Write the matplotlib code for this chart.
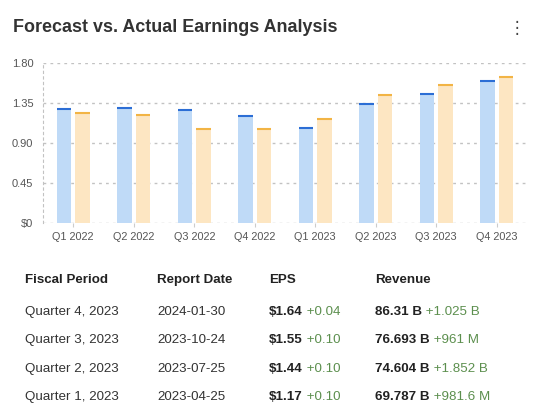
import matplotlib
matplotlib.use("Agg")
import matplotlib.pyplot as plt
import numpy as np

quarters = ["Q1 2022", "Q2 2022", "Q3 2022", "Q4 2022",
            "Q1 2023", "Q2 2023", "Q3 2023", "Q4 2023"]
forecast = [1.28, 1.29, 1.27, 1.20, 1.07, 1.34, 1.45, 1.60]
actual = [1.24, 1.21, 1.06, 1.06, 1.17, 1.44, 1.55, 1.64]
y_ticks = [0, 0.45, 0.90, 1.35, 1.80]
y_tick_labels = ["$0", "0.45", "0.90", "1.35", "1.80"]

headers = ["Fiscal Period", "Report Date", "EPS", "Revenue"]
periods = ["Quarter 4, 2023", "Quarter 3, 2023", "Quarter 2, 2023", "Quarter 1, 2023"]
report_dates = ["2024-01-30", "2023-10-24", "2023-07-25", "2023-04-25"]
eps = ["$1.64", "$1.55", "$1.44", "$1.17"]
eps_surprise = ["+0.04", "+0.10", "+0.10", "+0.10"]
revenue = ["86.31 B", "76.693 B", "74.604 B", "69.787 B"]
revenue_surprise = ["+1.025 B", "+961 M", "+1.852 B", "+981.6 M"]

plt.rcParams["font.family"] = ["Liberation Sans", "DejaVu Sans"]

W, H = 537, 409
fig = plt.figure(figsize=(W / 100, H / 100), dpi=100)
fig.patch.set_facecolor("white")

# overlay in pixel coordinates (y down) for title and table
ov = fig.add_axes([0, 0, 1, 1])
ov.set_xlim(0, W)
ov.set_ylim(H, 0)
ov.axis("off")

ov.text(13, 28, "Forecast vs. Actual Earnings Analysis",
        fontsize=12.9, fontweight="bold", color="#333333", va="center", ha="left")
ov.text(517, 28, "\u22ee", fontsize=12, color="#444444",
        va="center", ha="center", family="DejaVu Sans")

ax = fig.add_axes([43 / W, 1 - 223 / H, 484 / W, (223 - 62.7) / H])
x = np.arange(len(quarters))
bw = 0.24
off = 0.155
blue_fill, blue_top = "#bfdaf7", "#2c6ed5"
orange_fill, orange_top = "#fde6c2", "#f2b445"

ax.bar(x - off, forecast, bw, color=blue_fill, zorder=2)
ax.bar(x + off, actual, bw, color=orange_fill, zorder=2)
ax.hlines(forecast, x - off - bw / 2, x - off + bw / 2, color=blue_top, lw=1.5, zorder=3)
ax.hlines(actual, x + off - bw / 2, x + off + bw / 2, color=orange_top, lw=1.5, zorder=3)

ax.set_xlim(-0.5, 7.5)
ax.set_ylim(0, 1.8)
ax.set_yticks(y_ticks)
ax.set_yticklabels(y_tick_labels)
ax.set_xticks(x)
ax.set_xticklabels(quarters)
ax.tick_params(axis="y", length=0, pad=7, labelsize=8, labelcolor="#555555")
ax.tick_params(axis="x", length=3, color="#cccccc", pad=3.5, labelsize=7.8, labelcolor="#555555")
ax.yaxis.grid(True, linestyle=(0, (2, 3)), color="#c2c2c2", lw=1, zorder=0)
ax.set_axisbelow(True)
for s in ["top", "right", "bottom"]:
    ax.spines[s].set_visible(False)
ax.spines["left"].set_linestyle((0, (2, 3)))
ax.spines["left"].set_color("#c2c2c2")
ax.patch.set_alpha(0)

# earnings table
col_x = [25, 157, 269, 375]
header_y = 280
row_y = [312, 340, 369, 397]
fs = 9.6
green = "#5c8f4e"
for cx, h in zip(col_x, headers):
    ov.text(cx, header_y, h, fontsize=fs, fontweight="bold",
            color="#222222", va="center", ha="left")

for i, ry in enumerate(row_y):
    ov.text(col_x[0], ry, periods[i], fontsize=fs, color="#333333", va="center")
    ov.text(col_x[1], ry, report_dates[i], fontsize=fs, color="#333333", va="center")
    t = ov.text(col_x[2], ry, eps[i], fontsize=fs, fontweight="bold",
                color="#222222", va="center")
    ov.annotate(" " + eps_surprise[i], xy=(1, 0), xycoords=t,
                fontsize=fs, color=green, va="bottom", ha="left")
    t2 = ov.text(col_x[3], ry, revenue[i], fontsize=fs, fontweight="bold",
                 color="#222222", va="center")
    ov.annotate(" " + revenue_surprise[i], xy=(1, 0), xycoords=t2,
                fontsize=fs, color=green, va="bottom", ha="left")

fig.savefig("out.png", dpi=100, facecolor="white")
